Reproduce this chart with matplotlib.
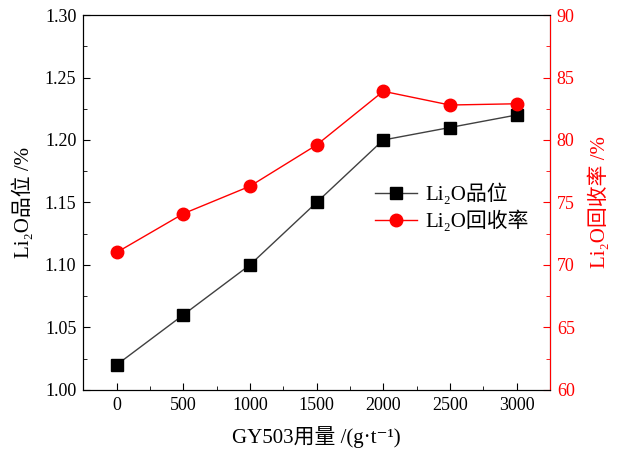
import matplotlib
matplotlib.use('Agg')
import matplotlib.pyplot as plt
from matplotlib.ticker import MultipleLocator, FormatStrFormatter

plt.rcParams['font.family'] = ['Liberation Serif', 'Noto Sans CJK SC', 'DejaVu Serif']
plt.rcParams['font.size'] = 12
plt.rcParams['axes.unicode_minus'] = False

# GY503 dosage (g/t) and flotation results
dosage = [0, 500, 1000, 1500, 2000, 2500, 3000]
grade = [1.02, 1.06, 1.10, 1.15, 1.20, 1.21, 1.22]
recovery = [71.0, 74.1, 76.3, 79.6, 83.9, 82.8, 82.9]

red = '#ff0000'

fig, ax = plt.subplots(figsize=(6.22, 4.57), dpi=100)
fig.subplots_adjust(left=0.134, right=0.884, top=0.967, bottom=0.147)
ax2 = ax.twinx()

l1, = ax.plot(dosage, grade, color='#404040', lw=1, marker='s', ms=8,
              mfc='black', mec='black', label='Li₂O品位')
l2, = ax2.plot(dosage, recovery, color=red, lw=1, marker='o', ms=9,
               mfc=red, mec=red, label='Li₂O回收率')

ax.set_xlim(-250, 3250)
ax.set_ylim(1.0, 1.3)
ax2.set_ylim(60, 90)
ax.xaxis.set_major_locator(MultipleLocator(500))
ax.xaxis.set_minor_locator(MultipleLocator(250))
ax.yaxis.set_major_locator(MultipleLocator(0.05))
ax.yaxis.set_minor_locator(MultipleLocator(0.025))
ax.yaxis.set_major_formatter(FormatStrFormatter('%.2f'))
ax2.yaxis.set_major_locator(MultipleLocator(5))
ax2.yaxis.set_minor_locator(MultipleLocator(2.5))

ax.tick_params(which='both', direction='in', top=False, right=False, labelsize=13)
ax.tick_params(which='major', length=5, pad=5)
ax.tick_params(which='minor', length=3)
ax2.tick_params(which='both', direction='in', colors=red, labelsize=13)
ax2.tick_params(which='major', length=5, pad=5)
ax2.tick_params(which='minor', length=3)
ax2.spines['right'].set_color(red)

ax.set_xlabel('GY503用量 /(g·t⁻¹)', fontsize=15, labelpad=9)
ax.set_ylabel('Li₂O品位 /%', fontsize=15, labelpad=8)
ax2.set_ylabel('Li₂O回收率 /%', fontsize=15, color=red, labelpad=10)

ax.legend([l1, l2], [l1.get_label(), l2.get_label()], frameon=False,
          loc='upper left', bbox_to_anchor=(0.585, 0.6), fontsize=15,
          handlelength=2.0, handletextpad=0.4, labelspacing=0.25)

fig.savefig('out.png', dpi=100)
